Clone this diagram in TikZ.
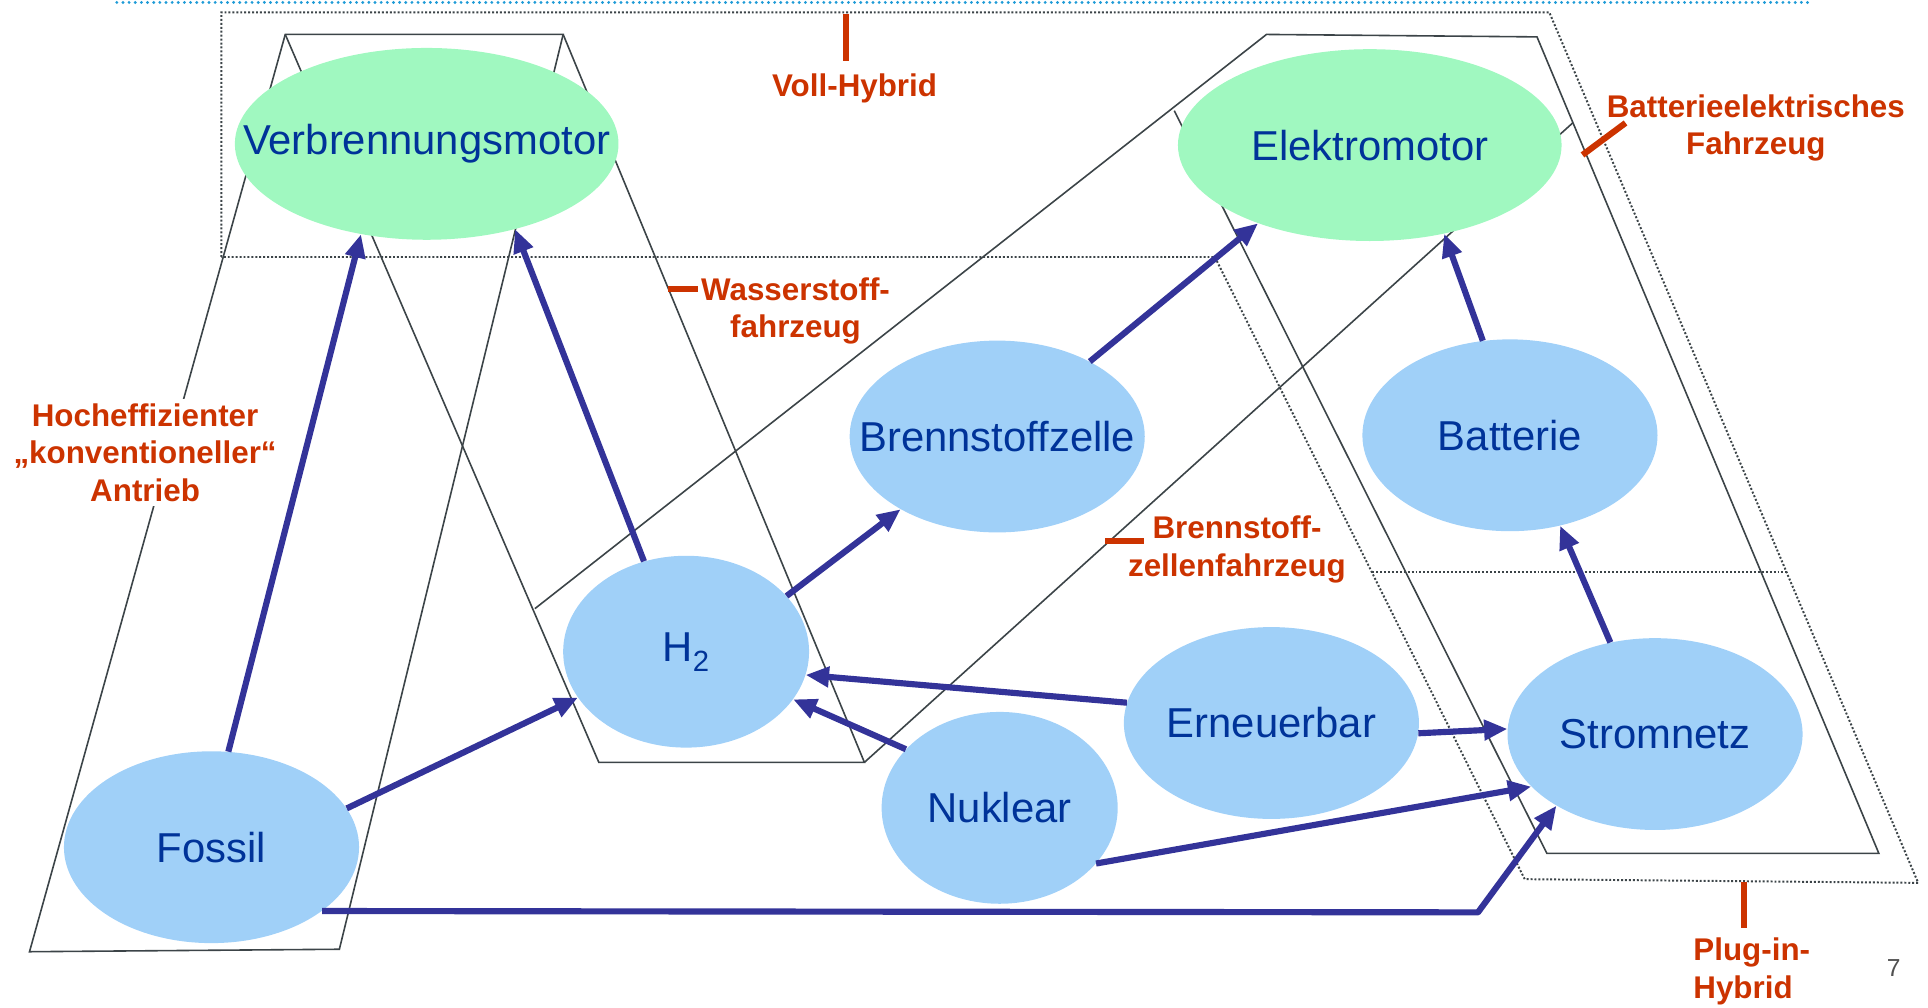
\documentclass[tikz,border=0pt]{standalone}
\usepackage{fontspec}
\setmainfont{Liberation Sans}
\usetikzlibrary{shapes.geometric,arrows.meta}
\definecolor{mintgreen}{HTML}{A0F8C0}
\definecolor{skyfill}{HTML}{A0D0F8}
\definecolor{nodetext}{HTML}{003399}
\definecolor{arrowblue}{HTML}{333399}
\definecolor{labelred}{HTML}{CC3300}
\definecolor{linegrey}{HTML}{3C4448}
\definecolor{headerblue}{HTML}{1E9BD7}
\definecolor{pagegrey}{HTML}{505050}
\begin{document}
\begin{tikzpicture}[x=1pt,y=-1pt,
  ell/.style={ellipse, inner sep=0pt, draw=none, minimum height=156pt},
  greenell/.style={ell, fill=mintgreen},
  blueell/.style={ell, fill=skyfill},
  ntext/.style={text=nodetext, font=\fontsize{34}{40}\selectfont, inner sep=0pt},
  flow/.style={draw=arrowblue, line width=5pt, line join=round, -{Triangle[length=19pt,width=16pt]}},
  redlab/.style={text=labelred, font=\fontsize{25.5}{30.5}\selectfont\bfseries, align=center, inner sep=2pt},
  labtick/.style={draw=labelred, line width=5pt},
  bound/.style={draw=linegrey, line width=1.3pt},
  dotbound/.style={draw=linegrey, line width=1.6pt, dash pattern=on 1.6pt off 1.6pt},
]
\useasboundingbox (0,0) rectangle (1568,819);

% header line
\draw[headerblue, line width=2.6pt, line cap=round, dash pattern=on 0pt off 5pt] (95,2) -- (1470,2);

% boundary polygons
\coordinate (A1) at (232,28);
\coordinate (A2) at (458,28);
\coordinate (A3) at (276,772);
\coordinate (A4) at (24,774);
\coordinate (B3) at (703,620);
\coordinate (B4) at (487,620);
\coordinate (C1) at (435,495);
\coordinate (C2) at (1030,28);
\coordinate (C3) at (1250,30);
\coordinate (C4) at (1279,100);
\coordinate (D3) at (1528,694);
\coordinate (D4) at (1258,694);
\coordinate (D5) at (955,90);
\draw[bound] (A4) -- (A1) -- (A2) -- (A3) -- cycle;
\draw[bound] (A1) -- (B4) -- (B3) -- (A2);
\draw[bound] (C1) -- (C2) -- (C3) -- (D3) -- (D4) -- (D5);
\draw[bound] (B3) -- (C4);

% dotted hybrid regions
\draw[dotbound] (180,209) -- (180,10) -- (1260,10) -- (1560,718) -- (1240,715) -- (988,209) -- cycle;
\draw[dotbound] (1116,465) -- (1454,465);

% ellipses
\node[greenell, minimum width=312pt, label={[ntext]center:Verbrennungsmotor}] (verb) at (347,117) {};
\node[greenell, minimum width=312pt, label={[ntext]center:Elektromotor}] (em) at (1114,118) {};
\node[blueell, minimum width=240pt, label={[ntext]center:Brennstoffzelle}] (bz) at (811,355) {};
\node[blueell, minimum width=240pt, label={[ntext]center:Batterie}] (batt) at (1228,354) {};
\node[blueell, minimum width=200pt, label={[ntext]center:H\textsubscript{2}}] (h2) at (558,530) {};
\node[blueell, minimum width=240pt, label={[ntext]center:Erneuerbar}] (ern) at (1034,588) {};
\node[blueell, minimum width=240pt, label={[ntext]center:Stromnetz}] (strom) at (1346,597) {};
\node[blueell, minimum width=192pt, label={[ntext]center:Nuklear}] (nuk) at (813,657) {};
\node[blueell, minimum width=240pt, label={[ntext]center:Fossil}] (fossil) at (172,689) {};

% flows
\draw[flow] (fossil.80) -- (verb.234);
\draw[flow] (h2.115) -- (verb.316);
\draw[flow] (fossil.16) -- (h2.203);
\draw[flow] (h2.29) -- (bz.217);
\draw[flow] (bz.39) -- (em.215);
\draw[flow] (batt.106) -- (em.310);
\draw[flow] (strom.116) -- (batt.299);
\draw[flow] (ern.172) -- (h2.349);
\draw[flow] (nuk.148) -- (h2.336);
\draw[flow] (ern.356) -- (strom.178);
\draw[flow] (nuk.330) -- (strom.203);
\coordinate (bend) at (1202,742);
\draw[flow] (fossil.330) -- (bend) -- (strom.216);

% labels
\node[redlab] (voll) at (695,72) {Voll-Hybrid};
\draw[labtick] (688,11) -- (688,50);
\node[redlab] (wass) at (647,253) {Wasserstoff-\\fahrzeug};
\draw[labtick] (543,235) -- (568,235);
\node[redlab, fill=white, inner sep=4pt] (hoch) at (118,368) {Hocheffizienter\\„konventioneller“\\Antrieb};
\node[redlab] (bev) at (1428,104) {Batterieelektrisches\\Fahrzeug};
\draw[labtick] (1287,126) -- (1322,100);
\node[redlab] (fcev) at (1006,447) {Brennstoff-\\zellenfahrzeug};
\draw[labtick] (899,440) -- (930,440);
\node[redlab, align=left, anchor=west] (phev) at (1375,790) {Plug-in-\\Hybrid};
\draw[labtick] (1418,717) -- (1418,755);
\node[text=pagegrey, font=\fontsize{20}{24}\selectfont, inner sep=0pt] (page) at (1540,787) {7};
\end{tikzpicture}
\end{document}
